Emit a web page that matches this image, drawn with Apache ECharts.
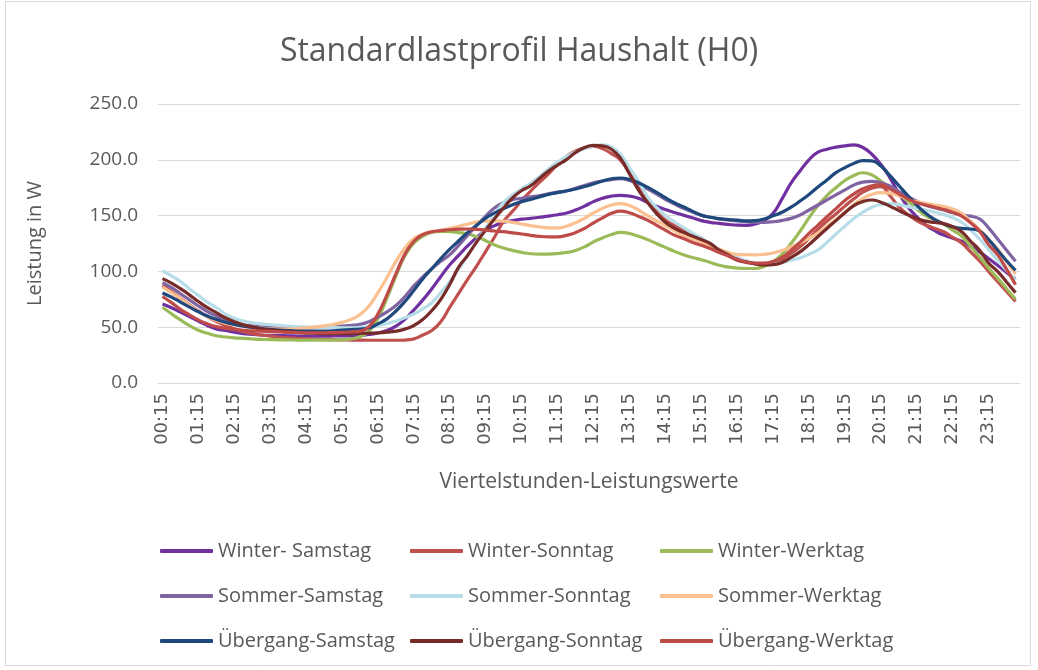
<!DOCTYPE html>
<html>
<head>
<meta charset="utf-8">
<title>Standardlastprofil Haushalt (H0)</title>
<script src="https://cdn.jsdelivr.net/npm/echarts@6/dist/echarts.min.js"></script>
<style>
  html, body { margin: 0; padding: 0; background: #fff; }
  #main { width: 1038px; height: 670px; }
</style>
</head>
<body>
<div id="main"></div>
<script type="text/javascript">
// Viertelstunden 00:15 ... 24:00
var zeiten = [];
for (var q = 1; q <= 96; q++) {
    var m = q * 15;
    var hh = Math.floor(m / 60), mm = m % 60;
    zeiten.push((hh < 10 ? '0' : '') + hh + ':' + (mm < 10 ? '0' : '') + mm);
}

var winterSamstag = [70.8,67.5,63.5,59.5,55.5,51.5,48.5,47,45.5,44.2,43.5,43,42.7,42.5,42.3,42.1,42,42,42,42.1,42.2,42.3,42.6,43.5,44.8,47,51,57,65.5,74.5,84.5,95.5,106,114.5,123,130.5,137,141,144,145.5,146.8,147.5,148.5,149.5,150.8,152.3,155,158.5,162.5,165.5,167.5,168.2,167.5,165.5,162,158.5,155.5,152.8,150.4,148,145.5,144,143,142,141.5,141.3,142.5,145.5,152,165,179,190,200,206.8,209.5,211.3,212.5,213.4,211,205,196,184,170,158,149,141.5,136.5,132.5,129.8,127,122.5,117.5,111.5,105.5,99,93];
var winterSonntag = [87.5,82,76,70,64.5,59.5,55,51.5,48.5,46,44.2,43,42,41.2,40.5,40,39.5,39.2,39,38.8,38.6,38.5,38.4,38.3,38.3,38.3,38.3,38.5,39.5,43,47,55,68,80.5,93,105,118,131,145,154,163.5,172,180,187.5,196,203,208,210.5,212,210,205.5,199.7,188,175.5,164,154,146,141,137,133,129,124,119,114,110,108,107,106.8,107.5,110.5,116,122,129.5,137.7,145,151.5,158.5,165,171,174.5,176,168,158,151,145.5,141.5,138.5,135.5,130.5,125.5,117.5,109.5,100,91,82,73];
var winterWerktag = [67.8,62,56.5,51.5,47.3,44.5,42.3,41.2,40.5,40,39.5,39.1,38.9,38.7,38.6,38.5,38.4,38.4,38.4,38.5,38.7,39.5,41.5,46.5,58,76,96,114,125.5,131.5,135,135.8,135.7,134.8,133.5,131,127.5,123.7,121,118.8,117,115.8,115.4,115.5,116,117,118.8,122,126.5,130,133,135,134,131.5,128.5,125,121.5,118,115,112.5,110.5,108,105.5,104,103,102.6,102.6,104.5,108.5,115.5,125,136,148,159,168,175,181.5,186,188.4,186.5,181,175,169,163,156,150,146,142.5,137,131.5,122.5,113,103,94,84.5,75];
var sommerSamstag = [90,85.5,80,74.5,69,64,60,56.5,54,52.2,51.2,50.4,50,49.7,49.5,49.4,49.5,49.8,50.2,50.6,51,51.7,52.5,55,59,63.8,69.5,77.5,87,95,102.5,109,115,123.5,132.5,141,149.5,157,161.8,164.3,165.5,166.8,168,169.5,171,172.3,174.5,177,179.5,181,182.3,183,181.5,178.5,174,169.5,164.5,160.5,156.5,153.3,150.4,148.5,147,146,145.2,144.5,144,144,144.5,145.7,147.5,150.5,155,159.5,164,168.5,173,177.5,180,180.7,179.5,176.5,171.5,167,163,159.3,157,155,152.5,150.5,149.5,147,139,129,119,109];
var sommerSonntag = [100.6,96,91,84.5,78.5,72.5,67.5,62,58,55.5,54,53,52.2,51.6,51,50.5,50.2,50,49.8,49.6,49.5,49.5,49.8,50.5,51.5,53.3,55.5,58.5,61.8,66.5,72,81,91,102,115,127,139.5,151,162,168.5,174,179,185,192,198,203,207,210,212.5,213.5,211.5,205,193,181,167,157.5,150,144.5,139.5,134.5,130,125,120,116.5,112.5,109.5,107.5,106.3,106.5,108,110,112,115.5,119.3,126,133.5,140.5,147.5,153,157.5,160,160.8,159.8,158,156.5,155,153,151,148,144,137,129,119.5,110,101,92];
var sommerWerktag = [86,81,75.5,69.5,64,59.5,56,53.5,52,50.8,49.8,49,48.5,48.3,48.2,48.7,49.5,50.3,51.2,52.4,54.3,57,61.3,69,81,94.5,109,121,129.5,133.5,135.5,136.8,138.5,140.5,142.5,144.2,145,145.2,145,144,142.5,141,139.8,139,139,140.5,143.5,147.6,152.5,156.5,159.5,160.8,159,155,150,145.5,141,136.5,132.6,129.5,126,123,120,117,115.3,115,114.8,115.3,116.5,118.8,122,125.5,129.5,134.5,140.5,146.5,153,160,165.5,169,170.5,170,167.8,165,162.5,161,159.5,158,156,152,145,137.5,129,120,109,97.5];
var uebergangSamstag = [80.6,77,72.5,68,63.8,60,57,54.5,52.5,51,49.8,48.8,48,47.5,47,46.6,46.4,46.4,46.5,46.8,47.3,47.8,48.3,49.3,53,57.5,64.5,73,83,93.5,102.5,111.5,120,127.5,135,141.5,147.8,152.5,156.4,159.8,162.5,164.5,166.8,169,170.6,172,173.8,176,178.3,181,183,183.7,182.5,179.5,175.5,171,166,161.5,157.9,154,150.4,148.5,147.3,146.5,146,145.3,145.5,147,149.8,153,157.5,163,169,175.7,182,188.5,193,196.8,199.3,199,194.5,186,177,168,159.5,152,146.5,142.5,140,138.5,138,136,128.5,119,109.5,101];
var uebergangSonntag = [93.5,89.5,84.5,79,73,67.5,63,58.5,55,52.2,50.2,48.6,47.6,46.7,46,45.5,45,44.6,44.3,44.2,44.2,44.3,44.5,44.7,45,45.6,46.5,48.3,51.5,57,65,75,88.5,104,114.5,126.5,137,147.5,157,166,172.5,176.7,183.5,190,195.3,200.2,206.5,211,213,212.5,209.5,201.5,187.5,173,162,152,144,138.8,135,131.8,128.5,125,119,115,110.5,108.5,106.8,105.8,106,108,112.5,117.5,124,131.3,138.5,145.5,152.5,159,162.5,164,162,158.5,154.5,150.8,147.5,145,143.8,142.8,140,135.5,127,119,107.5,100,90.5,81];
var uebergangWerktag = [77.5,72,66,61,56.5,53,50.5,49,48,47.2,46.7,46.4,46.2,45.8,45.4,45.1,45,45,45,45.1,45.3,45.8,46.5,50.5,62,79,98,115.5,127,133,135.5,136.5,137.3,137.8,138,137.6,137,136.2,135.6,134.5,133.5,132.3,131.4,131,131,132.3,134.8,138.5,143.5,148,152,154,152.5,149.5,146,141.5,137,132.5,129.5,126.2,123.4,120.5,117,114,111,108.5,107.5,107.5,109,112.5,119,126,134,141.5,149,156.3,163.5,169.5,174,176.8,177.7,174,169.5,165,161.5,159.5,157.5,155.5,153,149.5,143.5,136,124,115,102,88];

var reihen = [
    { name: 'Winter- Samstag', data: winterSamstag, color: '#7030A0' },
    { name: 'Winter-Sonntag', data: winterSonntag, color: '#C0504D' },
    { name: 'Winter-Werktag', data: winterWerktag, color: '#9BBB59' },
    { name: 'Sommer-Samstag', data: sommerSamstag, color: '#8064A2' },
    { name: 'Sommer-Sonntag', data: sommerSonntag, color: '#B7DEE8' },
    { name: 'Sommer-Werktag', data: sommerWerktag, color: '#FAC090' },
    { name: 'Übergang-Samstag', data: uebergangSamstag, color: '#1F497D' },
    { name: 'Übergang-Sonntag', data: uebergangSonntag, color: '#772C2A' },
    { name: 'Übergang-Werktag', data: uebergangWerktag, color: '#BE4B48' }
];

var schrift = 'Open Sans';
var grau = '#595959';

function legende(left, namen) {
    return {
        orient: 'vertical',
        left: left,
        top: 539,
        padding: 0,
        icon: 'roundRect',
        itemWidth: 53,
        itemHeight: 4,
        itemGap: 21,
        textStyle: { fontFamily: schrift, fontSize: 20, color: grau, lineHeight: 24 },
        data: namen
    };
}

var myChart = echarts.init(document.getElementById('main'));
myChart.setOption({
    animation: false,
    title: {
        text: 'Standardlastprofil Haushalt (H0)',
        left: 'center',
        top: 31,
        textStyle: { fontFamily: schrift, fontSize: 32, fontWeight: 'normal', color: grau }
    },
    graphic: [{
        type: 'rect',
        shape: { x: 5.5, y: 1.5, width: 1025, height: 664 },
        style: { fill: 'none', stroke: '#D9D9D9', lineWidth: 1 },
        silent: true
    }],
    legend: [
        legende(160, ['Winter- Samstag', 'Sommer-Samstag', 'Übergang-Samstag']),
        legende(410, ['Winter-Sonntag', 'Sommer-Sonntag', 'Übergang-Sonntag']),
        legende(660, ['Winter-Werktag', 'Sommer-Werktag', 'Übergang-Werktag'])
    ],
    grid: { left: 158, right: 18, top: 104, bottom: 287, containLabel: false },
    xAxis: {
        type: 'category',
        data: zeiten,
        boundaryGap: true,
        name: 'Viertelstunden-Leistungswerte',
        nameLocation: 'middle',
        nameGap: 89,
        nameTextStyle: { fontFamily: schrift, fontSize: 21, color: grau },
        axisLine: { lineStyle: { color: '#D9D9D9', width: 1 } },
        axisTick: { show: false },
        axisLabel: {
            interval: 3,
            rotate: 90,
            margin: 10,
            fontFamily: 'DejaVu Sans',
            fontSize: 18,
            color: grau
        }
    },
    yAxis: {
        type: 'value',
        min: 0,
        max: 250,
        interval: 50,
        name: 'Leistung in W',
        nameLocation: 'middle',
        nameGap: 113,
        nameTextStyle: { fontFamily: schrift, fontSize: 20, color: grau },
        axisLine: { show: false },
        axisTick: { show: false },
        splitLine: { lineStyle: { color: '#D9D9D9', width: 1 } },
        axisLabel: {
            margin: 20,
            fontFamily: schrift,
            fontSize: 19,
            color: grau,
            formatter: function (v) { return v.toFixed(1); }
        }
    },
    series: reihen.map(function (r) {
        return {
            name: r.name,
            type: 'line',
            data: r.data,
            smooth: true,
            showSymbol: false,
            symbol: 'none',
            color: r.color,
            lineStyle: { width: 3.2, color: r.color },
            itemStyle: { color: r.color }
        };
    })
});
</script>
</body>
</html>
